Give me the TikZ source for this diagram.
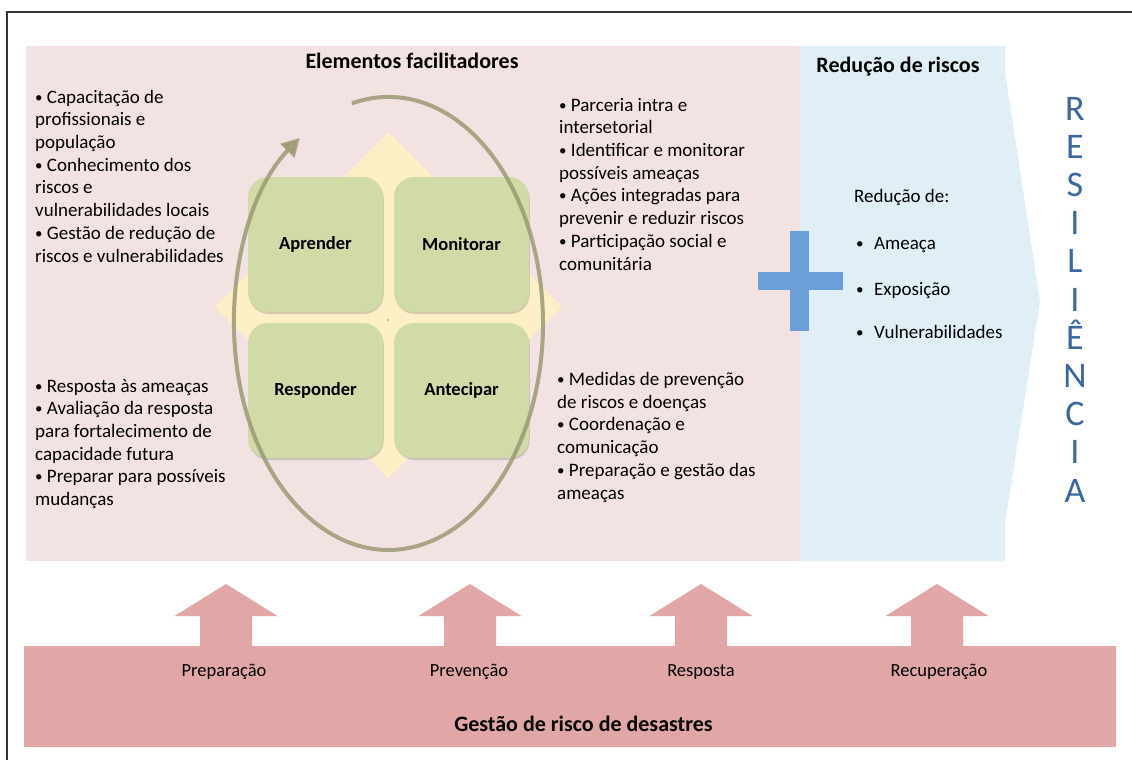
\documentclass[tikz,border=0pt]{standalone}
\usepackage{fontspec}
\setmainfont{Carlito}
\usetikzlibrary{arrows.meta,shadows}
\definecolor{pinkbg}{HTML}{F3E2E2}
\definecolor{bluebg}{HTML}{E0EFF5}
\definecolor{barpink}{HTML}{E1A7A6}
\definecolor{boxgreen}{HTML}{D0DBA8}
\definecolor{diamondy}{HTML}{FDEFC6}
\definecolor{olivec}{HTML}{9C9A74}
\definecolor{plusblue}{HTML}{6A9FD8}
\definecolor{resblue}{HTML}{3A67A0}
\newcommand{\smbul}{\raisebox{1pt}{\fontsize{15}{15}\selectfont •}}
\begin{document}
\begin{tikzpicture}[x=1pt,y=-1pt,
  bodytext/.style={font=\fontsize{19}{22.7}\selectfont, align=left, inner sep=0pt, anchor=base west},
  smalltext/.style={font=\fontsize{19}{22}\selectfont, inner sep=0pt, anchor=base west},
  lbltext/.style={font=\fontsize{18.5}{22}\selectfont, inner sep=0pt, anchor=base},
  titletext/.style={font=\bfseries\fontsize{22}{26}\selectfont, inner sep=0pt, anchor=base},
  quad/.style={fill=boxgreen, rounded corners=20pt, minimum width=135pt, minimum height=135pt,
    inner sep=0pt, font=\bfseries\fontsize{18.5}{22}\selectfont,
    drop shadow={shadow xshift=0.8pt, shadow yshift=-2pt, opacity=0.3, fill=black!55}},
  restext/.style={font=\fontsize{36}{38.2}\selectfont, text=resblue, align=center, inner sep=0pt, anchor=base}
]
\useasboundingbox (0,0) rectangle (1132,760);
\fill[white] (0,0) rectangle (1132,760);
% frame
\draw[line width=1.3pt, black!80] (7,762) -- (7,12) -- (1134,12);
% panels
\fill[pinkbg] (26,46) rectangle (800,561);
\fill[bluebg] (800,46) -- (1005,46) -- (1005,72) -- (1040,302) -- (1005,523) -- (1005,561) -- (800,561) -- cycle;
% diamond
\fill[diamondy] (388.5,132) -- (562,307) -- (388.5,478) -- (215,307) -- cycle;
% quadrants
\node[quad] (aprender) at (315.5,244.5) {Aprender};
\node[quad] (monitorar) at (461.5,244.5) {Monitorar};
\node[quad] (responder) at (315.5,390.5) {Responder};
\node[quad] (antecipar) at (461.5,390.5) {Antecipar};
\fill[black] (388,320) circle (0.6pt);
% cycle arc
\draw[olivec, line width=4pt, opacity=0.85, -{Triangle[length=18pt,width=19pt]}]
  (351.9,103.4) arc[start angle=-103.7, end angle=235, x radius=154.5, y radius=226.5];
% titles
\node[titletext] (elem) at (412,68) {Elementos facilitadores};
\node[titletext] (reduc) at (898,73) {Redução de riscos};
% text blocks (anchor = baseline of last line)
\node[bodytext] (tl) at (35,262) {\smbul\ Capacitação de\\profissionais e\\população\\\smbul\ Conhecimento dos\\riscos e\\vulnerabilidades locais\\\smbul\ Gestão de redução de\\riscos e vulnerabilidades};
\node[bodytext] (tr) at (559,270) {\smbul\ Parceria intra e\\intersetorial\\\smbul\ Identificar e monitorar\\possíveis ameaças\\\smbul\ Ações integradas para\\prevenir e reduzir riscos\\\smbul\ Participação social e\\comunitária};
\node[bodytext] (bl) at (35,505.5) {\smbul\ Resposta às ameaças\\\smbul\ Avaliação da resposta\\para fortalecimento de\\capacidade futura\\\smbul\ Preparar para possíveis\\mudanças};
\node[bodytext] (br) at (557,499) {\smbul\ Medidas de prevenção\\de riscos e doenças\\\smbul\ Coordenação e\\comunicação\\\smbul\ Preparação e gestão das\\ameaças};
% plus
\fill[plusblue] (790,231) rectangle (809,331);
\fill[plusblue] (758,272) rectangle (843,290);
% reduction list
\node[smalltext] (redde) at (854,202) {Redução de:};
\node[smalltext] (d1) at (856,249) {\smbul};
\node[smalltext] (t1) at (874,249) {Ameaça};
\node[smalltext] (d2) at (856,295) {\smbul};
\node[smalltext] (t2) at (874,295) {Exposição};
\node[smalltext] (d3) at (856,338) {\smbul};
\node[smalltext] (t3) at (874,338) {Vulnerabilidades};
% resiliencia
\node[restext] (resil) at (1075,502) {R\\E\\S\\I\\L\\I\\Ê\\N\\C\\I\\A};
% bottom bar
\fill[barpink] (24,646) rectangle (1116,747);
\foreach \cx in {226,470,701,937}{
  \fill[barpink] ({\cx-26},647) -- ({\cx-26},616) -- ({\cx-51.5},616) -- (\cx,584) -- ({\cx+51.5},616) -- ({\cx+26},616) -- ({\cx+26},647) -- cycle;
}
\node[lbltext] (prep) at (224,676) {Preparação};
\node[lbltext] (prev) at (469,676) {Prevenção};
\node[lbltext] (resp) at (701,676) {Resposta};
\node[lbltext] (recu) at (939,676) {Recuperação};
\node[titletext] (gestao) at (583.5,731) {Gestão de risco de desastres};
\end{tikzpicture}
\end{document}
